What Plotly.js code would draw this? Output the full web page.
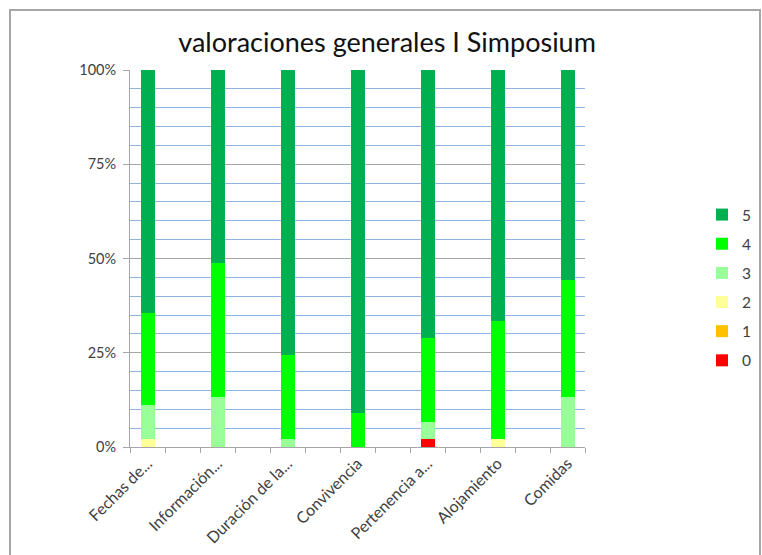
<!DOCTYPE html>
<html>
<head>
<meta charset="utf-8">
<script src="https://cdn.plot.ly/plotly-3.0.1.min.js"></script>
<style>
  html, body { margin: 0; padding: 0; background: #fff; }
  #wrap { position: relative; width: 762px; height: 555px; overflow: hidden; }
  #chart { position: absolute; left: 0; top: 0; width: 762px; height: 555px; }
  #frame { position: absolute; left: 9px; top: 9px; width: 752px; height: 560px;
           border: 2px solid #a6a6a6; pointer-events: none; box-sizing: border-box; }
</style>
</head>
<body>
<div id="wrap">
  <div id="chart"></div>
  <div id="frame"></div>
</div>
<script>
const categories = ['Fechas de...', 'Información...', 'Duración de la...', 'Convivencia', 'Pertenencia a...', 'Alojamiento', 'Comidas'];
const seriesNames = ['0', '1', '2', '3', '4', '5'];
const v0 = [0, 0, 0, 0, 2.2, 0, 0];
const v1 = [0, 0, 0, 0, 0, 0, 0];
const v2 = [2.2, 0, 0, 0, 0, 2.2, 0];
const v3 = [8.9, 13.3, 2.2, 0, 4.4, 0, 13.3];
const v4 = [24.4, 35.6, 22.2, 8.9, 22.2, 31.1, 31.1];
const v5 = [64.4, 51.1, 75.6, 91.1, 71.1, 66.7, 55.6];
const yTickVals = [0, 25, 50, 75, 100];
const yTickText = ['0%', '25%', '50%', '75%', '100%'];

const values = [v0, v1, v2, v3, v4, v5];
const colors = ['#FF0000', '#FFC000', '#FFFF99', '#99FF99', '#00FF00', '#00B050'];

const traces = values.map((vals, i) => ({
  type: 'bar',
  name: seriesNames[i],
  x: categories,
  y: vals,
  width: 0.2,
  marker: { color: colors[i], line: { width: 0 } },
  legendgroup: 'g' + i,
  legendrank: 100 - i,
  hoverinfo: 'skip'
}));

// helper trace for the category-boundary tick marks
traces.push({ type: 'scatter', x: [], y: [], xaxis: 'x2', yaxis: 'y', showlegend: false, hoverinfo: 'skip' });

const boundaryTicks = [];
for (let k = 0; k <= 13; k++) boundaryTicks.push(-0.25 + 0.5 * k);

const layout = {
  width: 762, height: 555,
  margin: { l: 130, r: 177, t: 70, b: 108 },
  paper_bgcolor: '#ffffff', plot_bgcolor: '#ffffff',
  barmode: 'stack', barnorm: 'percent',
  font: { family: 'Lato, "Open Sans", sans-serif', color: '#404040', size: 14 },
  title: {
    text: 'valoraciones generales I Simposium',
    font: { family: 'Lato, "Open Sans", sans-serif', size: 27, color: '#111111' },
    x: 0.508, xanchor: 'center', y: 0.924, yanchor: 'middle'
  },
  xaxis: {
    type: 'category',
    range: [-0.25, 6.25],
    tickangle: -45,
    ticks: '',
    showline: true, linecolor: '#a6a6a6', linewidth: 1,
    showgrid: false, zeroline: false,
    tickfont: { size: 16, color: '#404040' }
  },
  xaxis2: {
    type: 'linear', overlaying: 'x', anchor: 'y', side: 'bottom',
    range: [-0.25, 6.25],
    tickmode: 'array', tickvals: boundaryTicks,
    ticks: 'outside', ticklen: 5, tickcolor: '#a6a6a6', tickwidth: 1,
    showticklabels: false, showgrid: false, zeroline: false, showline: false
  },
  yaxis: {
    range: [0, 100],
    tickmode: 'array', tickvals: yTickVals, ticktext: yTickText,
    ticks: 'outside', ticklen: 6, tickcolor: '#a6a6a6',
    showline: true, linecolor: '#a6a6a6', linewidth: 1,
    showgrid: true, gridcolor: '#a6a6a6', gridwidth: 1,
    zeroline: false,
    minor: { dtick: 5, showgrid: true, gridcolor: '#8EB4E3', gridwidth: 1, ticks: '' },
    tickfont: { size: 14.5, color: '#404040' },
    ticklabelstandoff: 4
  },
  showlegend: true,
  legend: {
    xref: 'container', yref: 'container',
    x: 702 / 762, xanchor: 'left',
    y: 1 - 198 / 555, yanchor: 'top',
    traceorder: 'grouped',
    tracegroupgap: 6,
    font: { size: 15.5, color: '#404040' },
    itemwidth: 30,
    bgcolor: 'rgba(0,0,0,0)'
  }
};

Plotly.newPlot('chart', traces, layout, { displayModeBar: false, staticPlot: true });
</script>
</body>
</html>
